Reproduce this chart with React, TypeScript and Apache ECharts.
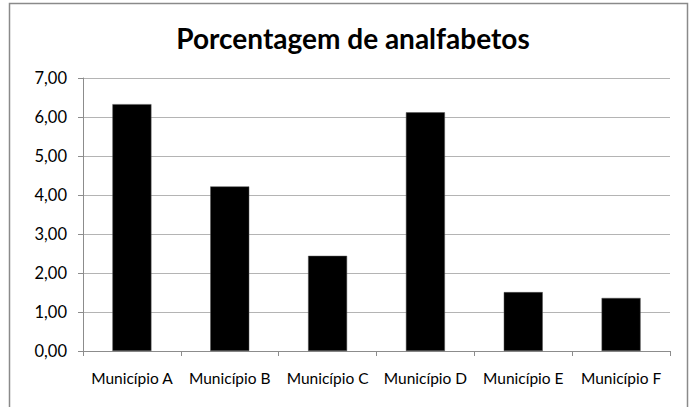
import React, { useEffect, useRef } from "react";
import * as echarts from "echarts";

const categories = ["Município A", "Município B", "Município C", "Município D", "Município E", "Município F"];
const values = [6.33, 4.22, 2.44, 6.12, 1.51, 1.36];
const title = "Porcentagem de analfabetos";

export default function App() {
  const ref = useRef<HTMLDivElement>(null);
  useEffect(() => {
    document.body.style.margin = "0";
    const chart = echarts.init(ref.current!, null, { renderer: "svg" });
    const font = "Lato";
    chart.setOption({
      animation: false,
      backgroundColor: "#ffffff",
      title: {
        text: title,
        left: 348,
        textAlign: "center",
        top: 19,
        textStyle: { fontFamily: font, fontSize: 28, fontWeight: "bold", color: "#000" },
      },
      graphic: [
        {
          type: "rect",
          shape: { x: 9.5, y: 3.5, width: 678, height: 420 },
          style: { fill: "none", stroke: "#8a8a8a", lineWidth: 1.5 },
          silent: true,
        },
      ],
      grid: { left: 83, right: 23, top: 78, bottom: 56 },
      xAxis: {
        type: "category",
        data: categories,
        axisLine: { lineStyle: { color: "#8c8c8c", width: 1 } },
        axisTick: { show: true, length: 5, lineStyle: { color: "#8c8c8c" } },
        axisLabel: { fontFamily: font, fontSize: 15.5, color: "#000", margin: 19, interval: 0 },
      },
      yAxis: {
        type: "value",
        min: 0,
        max: 7,
        interval: 1,
        axisLine: { show: true, lineStyle: { color: "#8c8c8c", width: 1 } },
        axisTick: { show: true, length: 5, lineStyle: { color: "#8c8c8c" } },
        splitLine: { lineStyle: { color: "#b4b4b4", width: 1 } },
        axisLabel: {
          fontFamily: font,
          fontSize: 16.5,
          color: "#000",
          margin: 16,
          formatter: (v: number) => v.toFixed(2).replace(".", ","),
        },
      },
      series: [
        {
          type: "bar",
          data: values,
          barWidth: 39,
          itemStyle: { color: "#000", borderColor: "#555", borderWidth: 0.5 },
        },
      ],
    });
    return () => chart.dispose();
  }, []);
  return <div ref={ref} style={{ width: 693, height: 407 }} />;
}
